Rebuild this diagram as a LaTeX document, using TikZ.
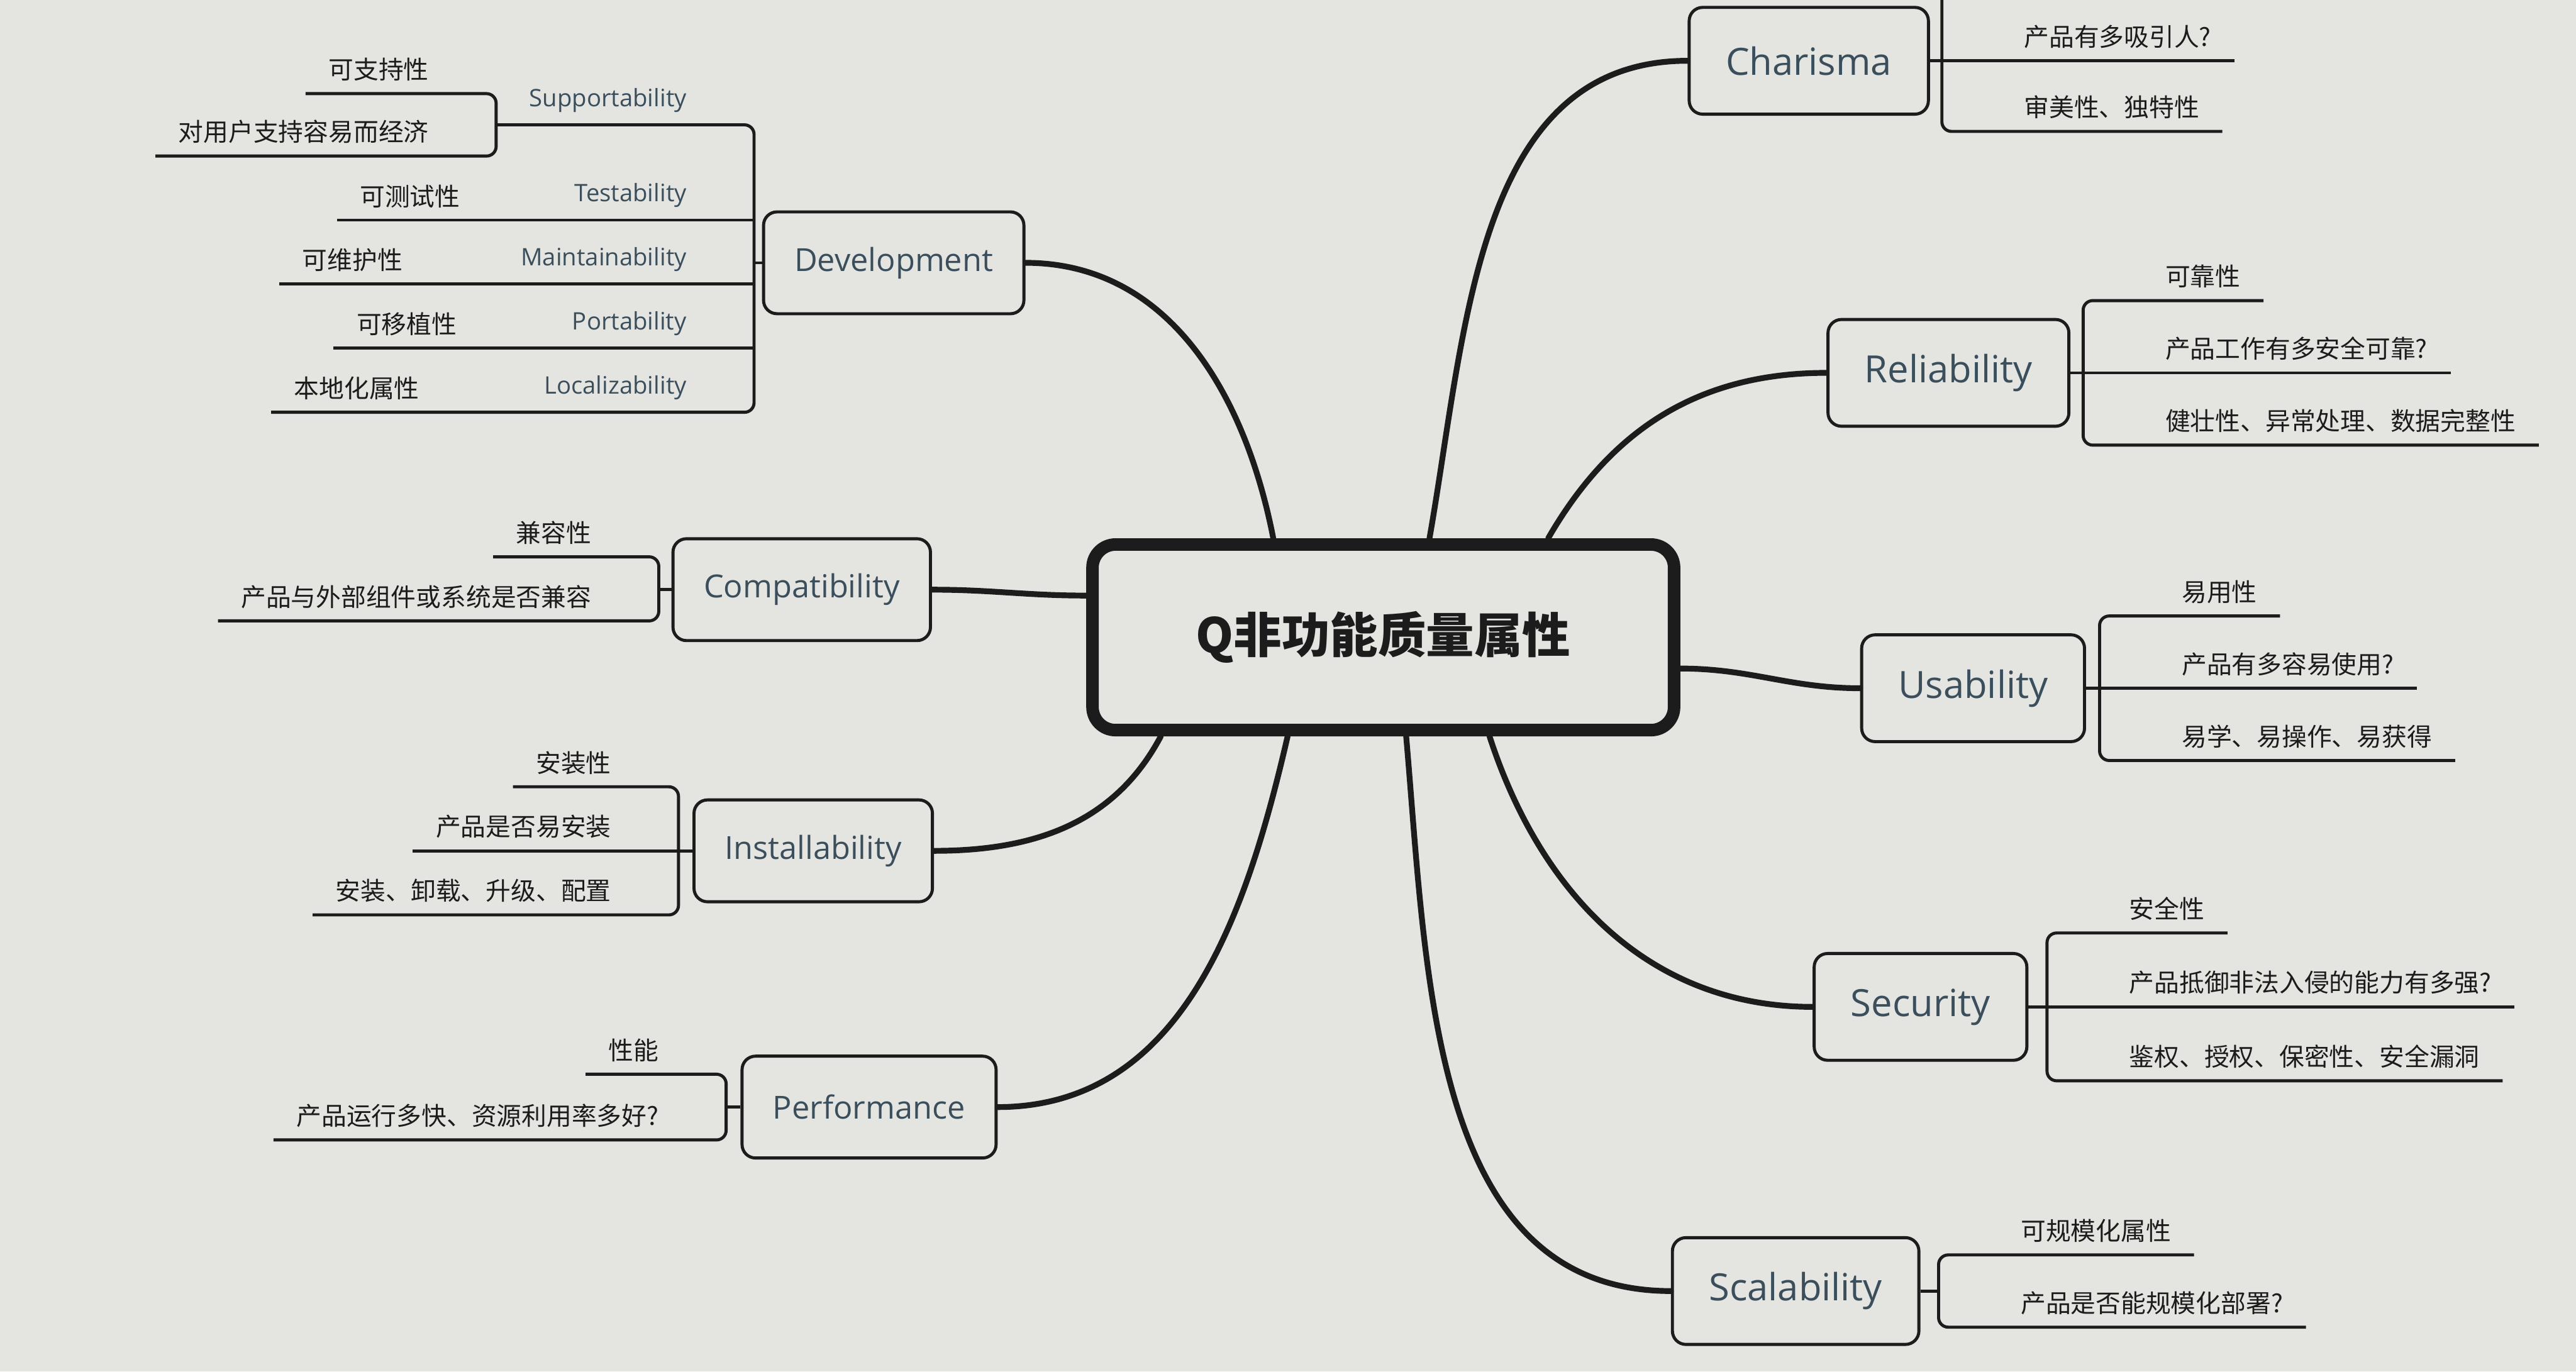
\documentclass[tikz,border=0pt]{standalone}
\usepackage{fontspec}
\setmainfont{Open Sans}
\newfontfamily\cjk{Noto Sans CJK SC}
\usetikzlibrary{calc}
\definecolor{paper}{RGB}{228,228,225}
\definecolor{ink}{RGB}{28,28,28}
\definecolor{slate}{RGB}{58,78,92}
\tikzset{
  core/.style={
    draw=ink,
    line width=6.5pt,
    rounded corners=12pt,
    fill=paper,
    minimum width=10.62cm,
    minimum height=3.39cm,
    font=\fontsize{25}{30}\cjk\bfseries,
    text=ink
  },
  topic/.style={
    draw=ink,
    line width=1.6pt,
    rounded corners=7pt,
    fill=paper,
    minimum height=1.86cm,
    inner xsep=16pt,
    font=\fontsize{16.5}{20}\selectfont,
    text=slate
  },
  topicR/.style={topic, minimum height=1.95cm, inner xsep=19pt, font=\fontsize{19.5}{23}\selectfont},
  leaf/.style={inner xsep=12pt, inner ysep=6.5pt, outer sep=0pt, font=\fontsize{13}{15}\cjk, text=ink},
  leafR/.style={leaf, anchor=south west},
  leafL/.style={leaf, anchor=south east},
  sublabel/.style={leafL, font=\fontsize{12.5}{15}\selectfont, text=slate},
  trunk/.style={draw=ink, line width=3pt, line cap=round},
  twig/.style={draw=ink, line width=1.6pt, rounded corners=5pt}
}
\begin{document}
\begin{tikzpicture}[x=0.03cm, y=-0.03cm]
  \useasboundingbox (0,0) rectangle (1568,835);
  \fill[paper] (0,0) rectangle (1568,835);

  % categories round the core
  \node[topic] (dev) at (544,160) {Development};
  \node[topic] (compat) at (488,359) {Compatibility};
  \node[topic] (install) at (495,518) {Installability};
  \node[topic] (perf) at (529,674) {Performance};
  \node[topicR] (charisma) at (1101,37) {Charisma};
  \node[topicR] (reliab) at (1186,227) {Reliability};
  \node[topicR] (usab) at (1201,419) {Usability};
  \node[topicR] (secur) at (1169,613) {Security};
  \node[topicR] (scal) at (1093,786) {Scalability};

  \node[core] (core) at (842,388) {Q非功能质量属性};
  \draw[trunk] (dev.east) to[out=0, in=101] (core.138);
  \draw[trunk] (compat.east) to[out=0, in=180] (core.172);
  \draw[trunk] (install.east) to[out=0, in=-118] (core.204);
  \draw[trunk] (perf.east) to[out=0, in=-103] (core.226);
  \draw[trunk] (charisma.west) to[out=180, in=80] (core.65);
  \draw[trunk] (reliab.west) to[out=180, in=60] (core.31);
  \draw[trunk] (usab.west) to[out=180, in=0] (core.-6);
  \draw[trunk] (secur.west) to[out=180, in=-72] (core.-43);
  \draw[trunk] (scal.west) to[out=180, in=-85] (core.-77);

  % Development
  \coordinate (devFork) at (459,160);
  \coordinate (supFork) at (302,76);
  \node[sublabel] (devSup) at (432,76) {Supportability};
  \node[leafL] (sup1) at (275,57) {可支持性};
  \node[leafL] (sup2) at (275,95) {对用户支持容易而经济};
  \node[sublabel] (devTest) at (432,134) {Testability};
  \node[leafR] (testCn) at (205,134) {可测试性};
  \node[sublabel] (devMaint) at (432,173) {Maintainability};
  \node[leafR] (maintCn) at (170,173) {可维护性};
  \node[sublabel] (devPort) at (432,212) {Portability};
  \node[leafR] (portCn) at (203,212) {可移植性};
  \node[sublabel] (devLocal) at (432,251) {Localizability};
  \node[leafR] (localCn) at (165,251) {本地化属性};
  \draw[twig] (dev.west) -- (devFork);
  \draw[twig] (supFork) -- (devSup.south -| devFork) -- (devLocal.south -| devFork) -- (localCn.south west);
  \draw[twig] (sup1.south west) -- (sup1.south -| supFork) -- (sup2.south -| supFork) -- (sup2.south west);
  \draw[twig] (testCn.south west) -- (devTest.south -| devFork);
  \draw[twig] (maintCn.south west) -- (devMaint.south -| devFork);
  \draw[twig] (portCn.south west) -- (devPort.south -| devFork);

  % Compatibility
  \coordinate (compatFork) at (401,359);
  \node[leafL] (compat1) at (374,339) {兼容性};
  \node[leafL] (compat2) at (374,378) {产品与外部组件或系统是否兼容};
  \draw[twig] (compat.west) -- (compatFork);
  \draw[twig] (compat1.south west) -- (compat1.south -| compatFork) -- (compat2.south -| compatFork) -- (compat2.south west);

  % Installability
  \coordinate (installFork) at (413,518);
  \node[leafL] (install1) at (386,479) {安装性};
  \node[leafL] (install2) at (386,518) {产品是否易安装};
  \node[leafL] (install3) at (386,557) {安装、卸载、升级、配置};
  \draw[twig] (install.west) -- (installFork);
  \draw[twig] (install1.south west) -- (install1.south -| installFork) -- (install3.south -| installFork) -- (install3.south west);
  \draw[twig] (install2.south west) -- (install2.south -| installFork);

  % Performance
  \coordinate (perfFork) at (442,674);
  \node[leafL] (perf1) at (415,654) {性能};
  \node[leafL] (perf2) at (415,694) {产品运行多快、资源利用率多好?};
  \draw[twig] (perf.west) -- (perfFork);
  \draw[twig] (perf1.south west) -- (perf1.south -| perfFork) -- (perf2.south -| perfFork) -- (perf2.south west);

  % Charisma
  \coordinate (charismaFork) at (1182,37);
  \coordinate (charismaTop) at (1182,-10);
  \node[leafR] (charisma1) at (1218,37) {产品有多吸引人?};
  \node[leafR] (charisma2) at (1218,80) {审美性、独特性};
  \draw[twig] (charisma.east) -- (charismaFork);
  \draw[twig] (charismaTop) -- (charisma2.south -| charismaFork) -- (charisma2.south east);
  \draw[twig] (charismaFork) -- (charisma1.south east);

  % Reliability
  \coordinate (reliabFork) at (1268,227);
  \node[leafR] (reliab1) at (1304,183) {可靠性};
  \node[leafR] (reliab2) at (1304,227) {产品工作有多安全可靠?};
  \node[leafR] (reliab3) at (1304,271) {健壮性、异常处理、数据完整性};
  \draw[twig] (reliab.east) -- (reliabFork);
  \draw[twig] (reliab1.south east) -- (reliab1.south -| reliabFork) -- (reliab3.south -| reliabFork) -- (reliab3.south east);
  \draw[twig] (reliabFork) -- (reliab2.south east);

  % Usability
  \coordinate (usabFork) at (1278,419);
  \node[leafR] (usab1) at (1314,375) {易用性};
  \node[leafR] (usab2) at (1314,419) {产品有多容易使用?};
  \node[leafR] (usab3) at (1314,463) {易学、易操作、易获得};
  \draw[twig] (usab.east) -- (usabFork);
  \draw[twig] (usab1.south east) -- (usab1.south -| usabFork) -- (usab3.south -| usabFork) -- (usab3.south east);
  \draw[twig] (usabFork) -- (usab2.south east);

  % Security
  \coordinate (securFork) at (1246,613);
  \node[leafR] (secur1) at (1282,568) {安全性};
  \node[leafR] (secur2) at (1282,613) {产品抵御非法入侵的能力有多强?};
  \node[leafR] (secur3) at (1282,658) {鉴权、授权、保密性、安全漏洞};
  \draw[twig] (secur.east) -- (securFork);
  \draw[twig] (secur1.south east) -- (secur1.south -| securFork) -- (secur3.south -| securFork) -- (secur3.south east);
  \draw[twig] (securFork) -- (secur2.south east);

  % Scalability
  \coordinate (scalFork) at (1180,786);
  \node[leafR] (scal1) at (1216,764) {可规模化属性};
  \node[leafR] (scal2) at (1216,808) {产品是否能规模化部署?};
  \draw[twig] (scal.east) -- (scalFork);
  \draw[twig] (scal1.south east) -- (scal1.south -| scalFork) -- (scal2.south -| scalFork) -- (scal2.south east);
\end{tikzpicture}
\end{document}
